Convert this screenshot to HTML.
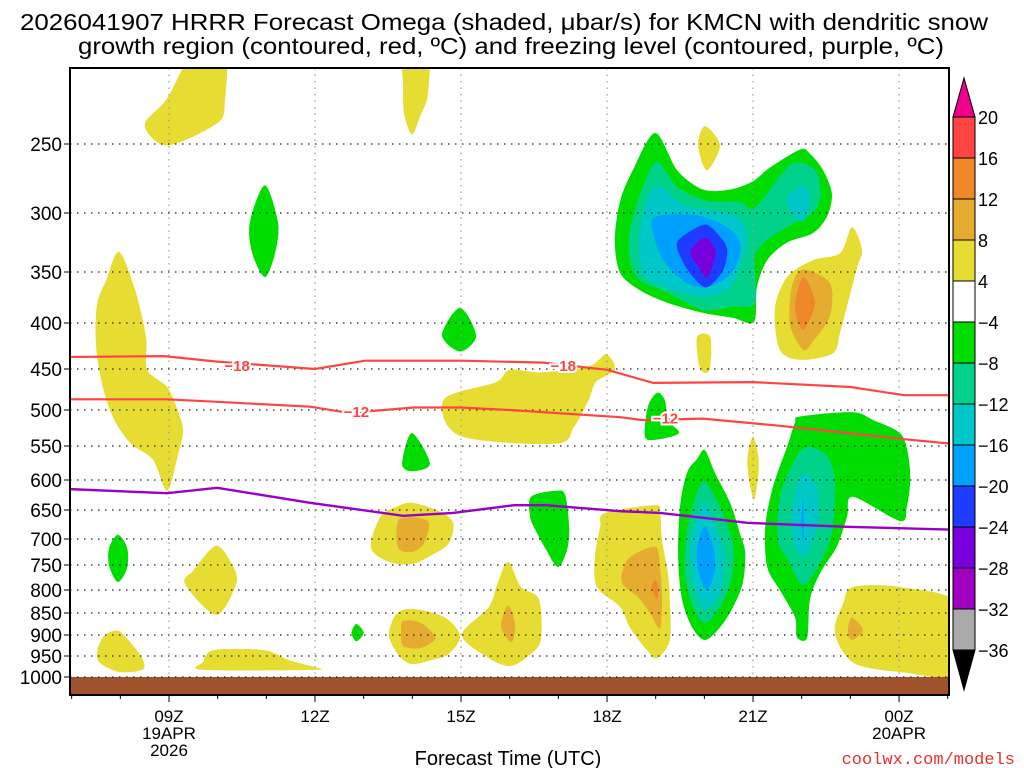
<!DOCTYPE html>
<html><head><meta charset="utf-8"><style>
html,body{margin:0;padding:0;background:#fff;}
svg{display:block;font-family:"Liberation Sans Narrow","Liberation Sans",sans-serif;}
</style></head><body>
<svg id="chart" width="1024" height="768" viewBox="0 0 1024 768" xmlns="http://www.w3.org/2000/svg">
<text x="20" y="30" font-size="23" textLength="968" lengthAdjust="spacingAndGlyphs">2026041907 HRRR Forecast Omega (shaded, μbar/s) for KMCN with dendritic snow</text>
<text x="78" y="54" font-size="23" textLength="866" lengthAdjust="spacingAndGlyphs">growth region (contoured, red, ºC) and freezing level (contoured, purple, ºC)</text>
<defs><clipPath id="pc"><rect x="70" y="68" width="879" height="627"/></clipPath></defs>
<g id="plot" clip-path="url(#pc)"></g>
<g id="axes"></g>
<g id="cbar"></g>
<text x="508" y="765" font-size="20" text-anchor="middle">Forecast Time (UTC)</text>
<text x="1015" y="764" font-size="17" fill="#e83030" text-anchor="end" font-family="Liberation Mono, monospace">coolwx.com/models</text>
</svg>
<script>
const NS="http://www.w3.org/2000/svg";
// pressure levels and their pixel rows
const pLevels=[250,300,350,400,450,500,550,600,650,700,750,800,850,900,950,1000];
const pRows=[144,213,272,323,369,410,446,480,510,539,565,590,613,635,656,677];
const timeTicks=[9,12,15,18,21,24];
const timeLabels=["09Z","12Z","15Z","18Z","21Z","00Z"];
const cbarLevels=["20","16","12","8","4","−4","−8","−12","−16","−20","−24","−28","−32","−36"];
const cbarColors=["#ff4444","#f0882a","#e6ac32","#e6dc32","#ffffff","#00dc00","#00d28c","#00c8c8","#00a0ff","#1e3cff","#7800dc","#a000c0","#aaaaaa"];
const C={y:"#e6dc32",g:"#e6ac32",o:"#f0882a",G:"#00dc00",t:"#00d28c",c:"#00c8c8",s:"#00a0ff",b:"#1e3cff",v:"#7800dc"};
function X(h){return 169+(h-9)*48.67;}
function Y(p){
  if(p<=250)return 144-(250-p)*1.38;
  for(let i=1;i<pLevels.length;i++){if(p<=pLevels[i]){const f=(p-pLevels[i-1])/(pLevels[i]-pLevels[i-1]);return pRows[i-1]+f*(pRows[i]-pRows[i-1]);}}
  return 677+(p-1000)*0.42;
}
// omega shaded regions: [level, points (hour, hPa)]
const blobs=[
["y",[[8.5,236],[8.96,217],[9.55,180],[10.15,180],[10.15,219],[9.99,235],[8.96,251]]],
["y",[[13.81,180],[14.32,180],[14.32,214],[14.16,230],[13.99,243],[13.83,228],[13.81,208]]],
["G",[[10.97,280],[11.24,308],[11.18,334],[10.97,355],[10.71,334],[10.66,308]]],
["y",[[7.97,333],[8.30,367],[8.53,416],[8.55,451],[8.96,472],[9.18,501],[9.29,529],[9.18,564],[8.96,618],[8.67,570],[8.22,547],[7.87,513],[7.64,472],[7.5,425],[7.52,382],[7.71,358]]],
["G",[[14.98,385],[15.31,414],[14.98,431],[14.61,413]]],
["G",[[13.99,532],[14.36,576],[13.99,587],[13.79,576]]],
["y",[[14.65,487],[15.72,466],[16.0,451],[16.66,454],[17.63,447],[17.98,434],[18.16,451],[17.77,466],[17.63,487],[17.32,524],[16.95,547],[14.98,536]]],
["G",[[7.95,693],[8.14,717],[8.14,756],[7.95,784],[7.77,752],[7.77,717]]],
["y",[[9.97,713],[10.31,752],[10.38,788],[9.97,854],[9.33,788],[9.51,760]]],
["y",[[7.97,891],[8.30,931],[8.47,960],[8.45,983],[7.97,988],[7.56,964],[7.54,931],[7.69,900]]],
["y",[[9.92,936],[10.95,936],[11.47,960],[11.98,976],[11.98,983],[9.70,983],[9.70,964]]],
["y",[[13.99,638],[14.55,652],[14.84,672],[14.75,708],[14.38,732],[13.99,748],[13.52,744],[13.15,717],[13.34,662],[13.66,645]]],
["g",[[13.73,666],[14.32,669],[14.24,708],[13.99,725],[13.71,717]]],
["y",[[13.99,841],[14.65,859],[14.98,902],[14.75,945],[14.38,960],[13.99,969],[13.73,950],[13.52,902],[13.66,854]]],
["g",[[13.81,868],[14.18,873],[14.47,907],[14.18,931],[13.81,926],[13.77,891]]],
["y",[[15.97,744],[16.23,794],[16.60,820],[16.64,912],[16.38,950],[16.01,974],[15.57,955],[15.02,900],[15.57,837],[15.76,784]]],
["g",[[15.97,833],[16.11,873],[16.07,912],[15.97,912],[15.82,878]]],
["G",[[12.85,875],[13.0,895],[12.85,915],[12.75,895]]],
["G",[[16.44,628],[16.95,618],[17.14,625],[17.22,679],[17.18,721],[16.99,754],[16.75,721],[16.52,683],[16.42,662]]],
["y",[[18.99,642],[19.09,655],[19.13,702],[19.25,766],[19.29,820],[19.29,912],[19.03,955],[18.82,936],[18.47,883],[18.27,837],[17.79,794],[17.75,735],[17.86,679],[17.96,655]]],
["g",[[18.99,715],[19.09,756],[19.13,820],[19.09,885],[18.88,850],[18.64,816],[18.33,790],[18.31,766],[18.47,735]]],
["o",[[18.99,780],[19.05,794],[19.03,820],[18.92,796]]],
["G",[[20.01,556],[20.22,590],[20.53,638],[20.73,690],[20.84,727],[20.79,786],[20.59,837],[20.32,883],[20.01,912],[19.75,883],[19.54,820],[19.46,735],[19.5,645],[19.64,590],[19.85,569]]],
["t",[[20.01,603],[20.38,655],[20.59,715],[20.55,780],[20.32,837],[20.01,873],[19.77,837],[19.60,766],[19.64,690],[19.80,633]]],
["c",[[20.01,638],[20.28,690],[20.42,740],[20.32,806],[20.01,843],[19.80,796],[19.70,727],[19.80,679]]],
["s",[[20.01,679],[20.18,715],[20.22,760],[20.05,800],[19.87,760],[19.85,715]]],
["y",[[21.0,537],[21.12,575],[21.02,633],[20.88,575]]],
["G",[[21.97,509],[23.05,503],[23.47,514],[24.02,532],[24.18,560],[24.23,600],[24.16,645],[24.02,669],[23.05,628],[22.93,662],[22.72,715],[22.38,766],[22.17,820],[22.11,907],[21.9,905],[21.86,859],[21.55,800],[21.29,754],[21.25,679],[21.41,611],[21.70,551],[21.86,518]]],
["t",[[22.11,551],[22.52,565],[22.68,600],[22.64,679],[22.44,735],[22.03,790],[21.70,737],[21.51,702],[21.55,628],[21.82,575]]],
["c",[[22.03,590],[22.32,616],[22.34,662],[22.23,706],[22.01,735],[21.82,697],[21.82,638]]],
["s",[[22.03,633],[22.05,667],[22.03,706],[21.99,667]]],
["y",[[23.05,794],[24.02,794],[25.2,830],[25.2,990],[24.02,988],[23.14,971],[22.79,929],[22.68,883],[22.85,830]]],
["g",[[23.03,861],[23.26,889],[23.03,912],[22.95,889]]],
["G",[[18.99,242],[19.44,269],[19.97,283],[20.53,283],[21.0,277],[21.35,267],[21.97,254],[22.17,257],[22.44,269],[22.62,286],[22.52,303],[22.23,317],[21.70,325],[21.29,340],[21.08,365],[21.02,399],[20.59,395],[19.97,390],[19.23,380],[18.68,368],[18.27,351],[18.16,323],[18.27,291],[18.53,269]]],
["t",[[19.03,263],[19.44,281],[20.05,291],[20.73,292],[21.04,296],[21.70,267],[22.03,264],[22.32,271],[22.38,288],[22.23,300],[21.70,312],[21.29,323],[21.04,337],[21.04,380],[20.59,384],[19.97,387],[19.23,370],[18.68,358],[18.47,340],[18.47,314],[18.74,281]]],
["c",[[18.99,281],[19.56,294],[20.32,299],[20.73,305],[20.88,323],[20.73,346],[20.53,365],[20.05,374],[19.36,368],[18.74,351],[18.68,314]]],
["c",[[22.03,280],[22.17,291],[22.03,307],[21.76,298],[21.72,288]]],
["s",[[18.99,303],[19.85,302],[20.47,312],[20.73,325],[20.67,343],[20.47,355],[20.05,365],[19.64,361],[19.15,340],[18.95,317]]],
["b",[[19.44,325],[19.77,314],[20.05,310],[20.32,320],[20.47,331],[20.38,349],[20.05,365],[19.77,355],[19.54,340]]],
["v",[[19.71,333],[20.01,321],[20.22,331],[20.18,343],[20.05,356],[19.91,347]]],
["y",[[20.01,237],[20.32,251],[20.05,269],[19.87,251]]],
["y",[[23.03,312],[23.24,331],[23.14,346],[22.93,384],[22.79,410],[22.64,433],[21.97,440],[21.55,429],[21.45,386],[21.70,355],[22.23,340],[22.79,334]]],
["g",[[22.03,348],[22.58,361],[22.58,393],[22.23,420],[22.03,429],[21.76,402],[21.80,364]]],
["o",[[22.03,355],[22.27,380],[22.03,407],[21.86,384]]],
["y",[[19.85,415],[20.12,415],[20.12,448],[20.01,455],[19.89,446]]],
["G",[[19.03,479],[19.19,488],[19.25,514],[19.48,532],[19.03,541],[18.78,537],[18.84,496]]]
];
// isotherm lines
const iso18H=[6.9,8.9,9.99,12.0,13.03,15.0,16.69,18.0,18.95,21.0,23.0,24.1,25.1];
const iso18P=[437,436,442,450,441,441,443,451,467,466,472,482,482];
const iso12H=[6.9,8.96,9.99,11.9,12.7,14.03,14.98,16.0,18.27,18.72,19.97,21.55,22.93,24.02,25.1];
const iso12P=[487,487,490,496,504,497,497,500,510,514,512,522,532,540,547];
const frzH=[6.9,8.96,9.99,11.9,13.81,14.84,16.09,16.75,18.27,19.09,20.88,22.93,25.1];
const frzP=[615,622,613,638,660,655,642,642,652,655,672,679,684];
const isoLabels=[["−18",10.4,447],["−18",17.1,447],["−12",12.85,503],["−12",19.2,512]];

function el(tag,attrs,parent){const e=document.createElementNS(NS,tag);for(const k in attrs)e.setAttribute(k,attrs[k]);parent.appendChild(e);return e;}
function smooth(pts){
  const n=pts.length;let d=`M${pts[0][0].toFixed(1)},${pts[0][1].toFixed(1)}`;
  for(let i=0;i<n;i++){const p0=pts[(i-1+n)%n],p1=pts[i],p2=pts[(i+1)%n],p3=pts[(i+2)%n];
    const t=0.15;
    const c1=[p1[0]+(p2[0]-p0[0])*t,p1[1]+(p2[1]-p0[1])*t],c2=[p2[0]-(p3[0]-p1[0])*t,p2[1]-(p3[1]-p1[1])*t];
    d+=`C${c1[0].toFixed(1)},${c1[1].toFixed(1)} ${c2[0].toFixed(1)},${c2[1].toFixed(1)} ${p2[0].toFixed(1)},${p2[1].toFixed(1)}`;}
  return d+"Z";
}
const plot=document.getElementById("plot"),axes=document.getElementById("axes"),cb=document.getElementById("cbar");
blobs.forEach((b,i)=>{
  const pts=b[1].map(q=>[X(q[0]),Y(q[1])]);
  const e=el("path",{d:smooth(pts),fill:C[b[0]]},plot);
  
  
});
// ground
const gr=el("rect",{x:70,y:677,width:879,height:18,fill:"#a0522d"},plot);


// grid
pLevels.forEach(p=>{
  const g=el("line",{x1:70,x2:949,y1:Y(p),y2:Y(p),stroke:"#222","stroke-width":1.3,"stroke-dasharray":"1.5 5.5"},plot);
  
  
});
timeTicks.forEach(h=>{
  const g=el("line",{x1:X(h),x2:X(h),y1:68,y2:677,stroke:"#999","stroke-width":1.2,"stroke-dasharray":"1.5 5"},plot);
  
  
});
function line(H,P,color,name,w){
  const d=H.map((h,i)=>(i?"L":"M")+X(h).toFixed(1)+","+Y(P[i]).toFixed(1)).join("");
  const e=el("path",{d:d,fill:"none",stroke:color,"stroke-width":w},plot);
  
  
}
line(iso18H,iso18P,"#ff4444","isotherm-minus-18",2.2);
line(iso12H,iso12P,"#ff4444","isotherm-minus-12",2.2);
line(frzH,frzP,"#9a00c8","freezing-level-line",2.4);
isoLabels.forEach(l=>{
  const t=el("text",{x:X(l[1]),y:Y(l[2])+5,"font-size":15,"font-weight":"bold",fill:"#ff4444","text-anchor":"middle",stroke:"#fff","stroke-width":4,"paint-order":"stroke","font-family":"Liberation Sans, sans-serif"},plot);
  t.textContent=l[0];
  
  
});
// frame
const fr=el("rect",{x:70,y:68,width:879,height:627,fill:"none",stroke:"#000","stroke-width":2},axes);


pLevels.forEach(p=>{
  const t=el("text",{x:62,y:Y(p)+7,"font-size":19,"text-anchor":"end"},axes);t.textContent=p;
  
  
  el("line",{x1:64,x2:70,y1:Y(p),y2:Y(p),stroke:"#000"},axes);
});
for(let h=7;h<=25;h++){el("line",{x1:X(h),x2:X(h),y1:695,y2:h%3==0?702:699,stroke:"#000"},axes);}
timeTicks.forEach((h,i)=>{
  const t=el("text",{x:X(h),y:722,"font-size":17,"text-anchor":"middle"},axes);t.textContent=timeLabels[i];
  
  
});
[["19APR",9,739],["2026",9,756],["20APR",24,739]].forEach(a=>{
  const t=el("text",{x:X(a[1]),y:a[2],"font-size":17,"text-anchor":"middle"},axes);t.textContent=a[0];
  
  
});
// colorbar
const cbTop=117,cbStep=41,cbx=953,cbw=22;
cbarColors.forEach((c,i)=>{
  const r=el("rect",{x:cbx,y:cbTop+i*cbStep,width:cbw,height:cbStep,fill:c,stroke:"#000","stroke-width":1},cb);
  
  
});
const tu=el("path",{d:`M${cbx},${cbTop}L${cbx+cbw/2},78L${cbx+cbw},${cbTop}Z`,fill:"#f0008c",stroke:"#000"},cb);


const bot=cbTop+cbarColors.length*cbStep;
const td=el("path",{d:`M${cbx},${bot}L${cbx+cbw/2},690L${cbx+cbw},${bot}Z`,fill:"#000",stroke:"#000"},cb);


cbarLevels.forEach((l,i)=>{
  const t=el("text",{x:978,y:cbTop+i*cbStep+7,"font-size":18},cb);t.textContent=l;
  
  
});
</script>
</body></html>
